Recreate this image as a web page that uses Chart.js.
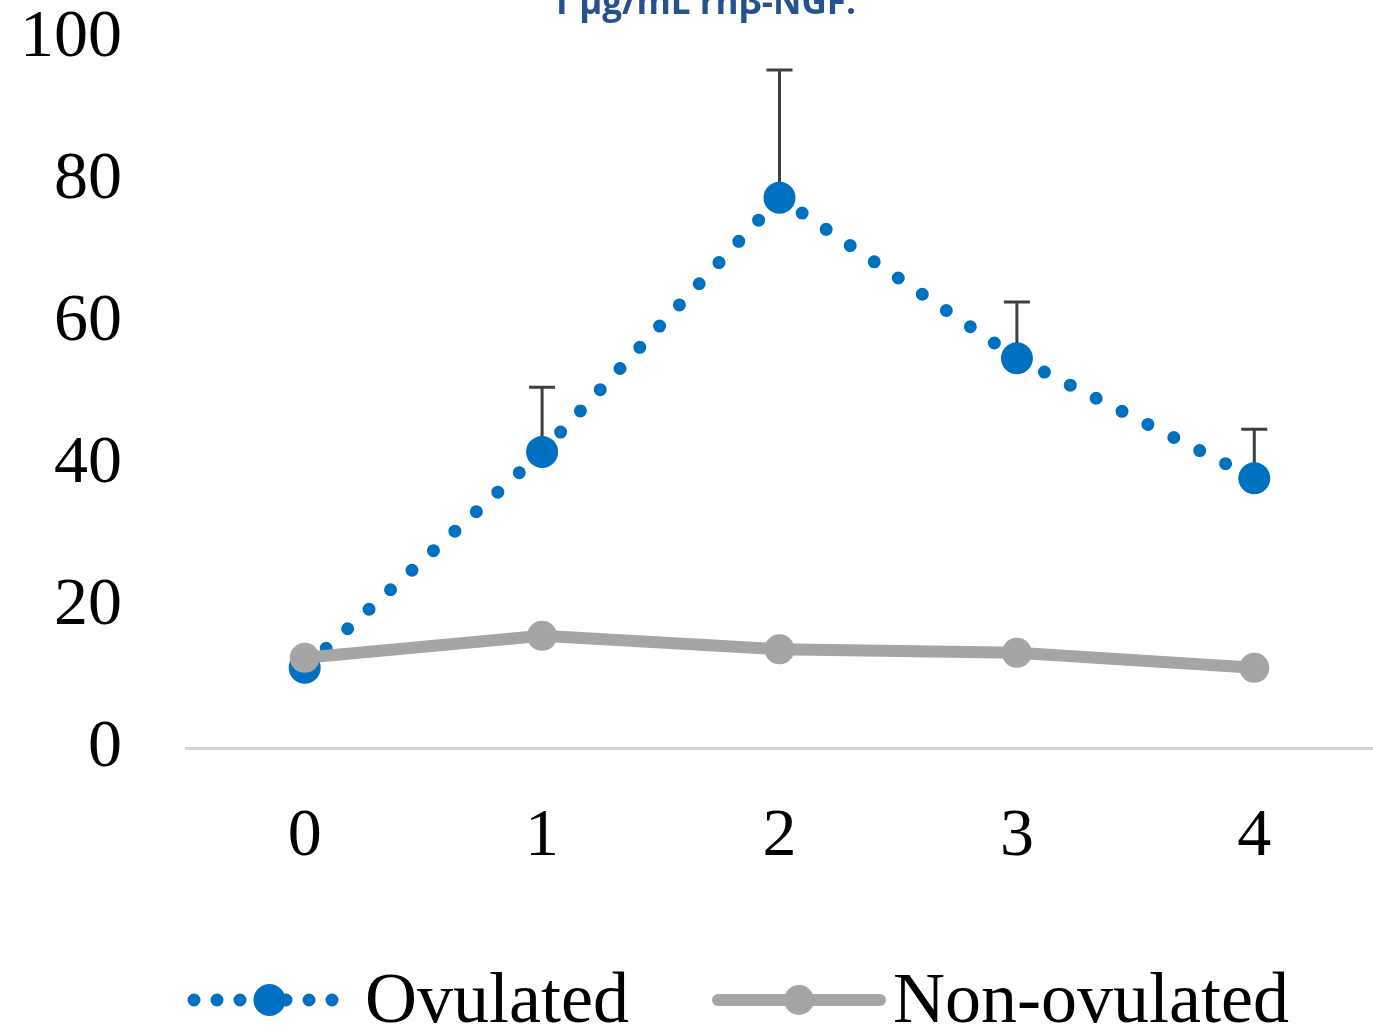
<!DOCTYPE html>
<html>
<head>
<meta charset="utf-8">
<script src="https://cdn.jsdelivr.net/npm/chart.js@4.4.1/dist/chart.umd.min.js"></script>
<style>
  html, body { margin: 0; padding: 0; background: #ffffff; overflow: hidden; }
  canvas { display: block; }
</style>
</head>
<body>
<canvas id="chart" width="1373" height="1030"></canvas>
<script>
// values
const days = ['0', '1', '2', '3', '4'];
const ovulated = [11.3, 41.7, 77.5, 54.9, 38.0];
const ovulatedErr = [0, 9.1, 18.0, 7.9, 6.9];
const nonOvulated = [12.7, 15.8, 13.9, 13.4, 11.3];
const yTicks = [0, 20, 40, 60, 80, 100];

const titleText = '1 µg/mL rhβ-NGF:';
const serif = '"Liberation Serif", "Times New Roman", serif';

// upper error bars for the ovulated series, drawn under the points
const errorBars = {
  id: 'errorBars',
  beforeDatasetsDraw(chart) {
    const { ctx, scales } = chart;
    const meta = chart.getDatasetMeta(1);
    ctx.save();
    ctx.strokeStyle = '#3f3f3f';
    ctx.lineWidth = 3;
    meta.data.forEach((pt, i) => {
      const err = ovulatedErr[i];
      if (!err) return;
      const yTop = scales.y.getPixelForValue(ovulated[i] + err);
      ctx.beginPath();
      ctx.moveTo(pt.x, pt.y);
      ctx.lineTo(pt.x, yTop);
      ctx.moveTo(pt.x - 13, yTop);
      ctx.lineTo(pt.x + 13, yTop);
      ctx.stroke();
    });
    ctx.restore();
  }
};

// title (cut at the top edge) and the legend along the bottom
const extras = {
  id: 'extras',
  afterDraw(chart) {
    const { ctx } = chart;
    ctx.save();
    ctx.fillStyle = '#25528e';
    ctx.font = 'bold 35px "Open Sans", "Liberation Sans", sans-serif';
    ctx.textAlign = 'center';
    ctx.textBaseline = 'alphabetic';
    ctx.fillText(titleText, 703, 14);

    const ly = 1000;
    const items = [
      { ds: chart.data.datasets[1], x0: 194, x1: 345, tx: 365, dash: [0, 23] },
      { ds: chart.data.datasets[0], x0: 718, x1: 880, tx: 893, dash: [] }
    ];
    items.forEach(it => {
      const ds = it.ds;
      ctx.save();
      ctx.strokeStyle = ds.borderColor;
      ctx.lineWidth = ds.borderWidth;
      ctx.lineCap = ds.borderCapStyle || 'butt';
      ctx.setLineDash(it.dash);
      ctx.beginPath();
      ctx.moveTo(it.x0, ly);
      ctx.lineTo(it.x1, ly);
      ctx.stroke();
      ctx.restore();
      ctx.fillStyle = ds.pointBackgroundColor;
      ctx.beginPath();
      ctx.arc((it.x0 + it.x1) / 2, ly, ds.pointRadius, 0, Math.PI * 2);
      ctx.fill();
      ctx.fillStyle = '#000000';
      ctx.font = '72px ' + serif;
      ctx.textAlign = 'left';
      ctx.textBaseline = 'alphabetic';
      ctx.fillText(ds.label, it.tx, 1022);
    });
    ctx.restore();
  }
};

new Chart(document.getElementById('chart'), {
  type: 'line',
  data: {
    labels: days,
    datasets: [
      {
        label: 'Non-ovulated',
        data: nonOvulated,
        borderColor: '#a5a5a5',
        backgroundColor: '#a5a5a5',
        borderWidth: 12,
        borderCapStyle: 'round',
        pointRadius: 15,
        pointBackgroundColor: '#a5a5a5',
        pointBorderWidth: 0,
        tension: 0,
        order: 0
      },
      {
        label: 'Ovulated',
        data: ovulated,
        borderColor: '#0070c0',
        backgroundColor: '#0070c0',
        borderWidth: 13,
        borderDash: [0, 29],
        borderCapStyle: 'round',
        pointRadius: 16,
        pointBackgroundColor: '#0070c0',
        pointBorderWidth: 0,
        tension: 0,
        order: 1
      }
    ]
  },
  options: {
    responsive: false,
    animation: false,
    layout: { autoPadding: false, padding: { top: 38, right: 0, left: 0, bottom: 0 } },
    plugins: {
      legend: { display: false },
      title: { display: false },
      tooltip: { enabled: false }
    },
    scales: {
      x: {
        offset: true,
        grid: { display: false, drawTicks: false },
        border: { display: true, color: '#d4d4d4', width: 3 },
        ticks: {
          color: '#000000',
          font: { family: serif, size: 68 },
          padding: 48
        },
        afterFit(scale) {
          scale.height = 282;
          scale.paddingLeft = 0;
          scale.paddingRight = 0;
        }
      },
      y: {
        min: 0,
        max: 100,
        afterBuildTicks(scale) { scale.ticks = yTicks.map(v => ({ value: v })); },
        grid: { display: false, drawTicks: false },
        border: { display: false },
        ticks: {
          color: '#000000',
          font: { family: serif, size: 68 },
          padding: 64
        },
        afterFit(scale) {
          scale.width = 186;
          scale.paddingTop = 0;
          scale.paddingBottom = 0;
        }
      }
    }
  },
  plugins: [errorBars, extras]
});
</script>
</body>
</html>
